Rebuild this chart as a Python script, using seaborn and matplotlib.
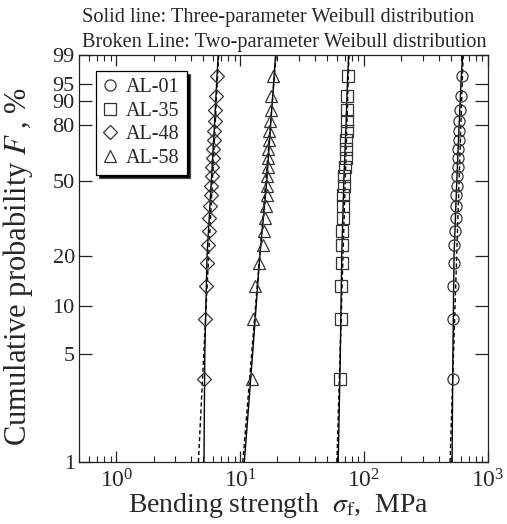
import numpy as np
import pandas as pd
import seaborn as sns
import matplotlib.pyplot as plt
from matplotlib.ticker import FixedLocator, NullLocator, NullFormatter

# Median ranks (i-0.3)/(n+0.4), n = 20, in percent
prob = [3.43, 8.33, 13.24, 18.14, 23.04, 27.94, 32.84, 37.75, 42.65, 47.55,
        52.45, 57.35, 62.25, 67.16, 72.06, 76.96, 81.86, 86.76, 91.67, 96.57]

# Bending strength of each specimen, MPa (sorted)
al01 = [519, 525, 526, 532, 535, 542, 547, 552, 557, 562,
        565, 570, 573, 576, 580, 584, 587, 595, 602, 614]
al35 = [64.0, 64.9, 65.2, 65.8, 66.5, 66.8, 67.3, 67.7, 68.1, 68.3,
        69.0, 69.6, 70.9, 71.6, 72.0, 72.3, 72.5, 72.9, 73.3, 73.9]
al48 = [5.13, 5.17, 5.27, 5.37, 5.47, 5.55, 5.62, 5.70, 5.76, 5.84,
        5.89, 5.95, 6.00, 6.06, 6.11, 6.17, 6.23, 6.29, 6.37, 6.46]
al58 = [12.43, 12.80, 13.29, 14.23, 15.41, 15.70, 16.00, 16.21, 16.42, 16.50,
        16.60, 16.73, 16.82, 16.92, 17.14, 17.23, 17.46, 17.69, 17.78, 18.56]

# Three-parameter fits (solid), read at these probabilities
fit3_prob = [1, 5, 20, 50, 80, 95, 99]
fit3_al01 = [513, 521, 532, 560, 585, 605, 624]
fit3_al35 = [61.8, 64.3, 66.0, 68.6, 71.5, 73.3, 75.0]
fit3_al48 = [5.10, 5.18, 5.40, 5.85, 6.20, 6.45, 6.65]
fit3_al58 = [10.8, 12.6, 14.4, 16.4, 17.6, 18.6, 19.3]

# Two-parameter fits (broken), straight lines
fit2_prob = [1, 99]
fit2_al01 = [494, 630]
fit2_al35 = [60.3, 75.5]
fit2_al48 = [4.6, 6.7]
fit2_al58 = [10.5, 19.5]

names = ["AL-01", "AL-35", "AL-48", "AL-58"]
markers = ["o", "s", "D", "^"]
yticks = [1, 5, 10, 20, 50, 80, 90, 95, 99]

sns.set_style("ticks")
plt.rcParams["font.family"] = ["Liberation Serif", "DejaVu Serif"]
plt.rcParams["mathtext.fontset"] = "stix"


def weib(f):
    f = np.clip(np.asarray(f, dtype=float), 1e-6, 100 - 1e-6)
    return np.log(-np.log(1 - f / 100))


def weib_inv(y):
    return 100 * (1 - np.exp(-np.exp(y)))


fig = plt.figure(figsize=(5.07, 5.24), dpi=100)
ax = fig.add_axes([0.1558, 0.1183, 0.8067, 0.7767])

points = [al01, al35, al48, al58]
fit3 = [fit3_al01, fit3_al35, fit3_al48, fit3_al58]
fit2 = [fit2_al01, fit2_al35, fit2_al48, fit2_al58]

for name, mk, xs, s3, s2 in zip(names, markers, points, fit3, fit2):
    sns.lineplot(x=s3, y=fit3_prob, sort=False, estimator=None, ax=ax,
                 color="black", lw=1.0)
    sns.lineplot(x=s2, y=fit2_prob, sort=False, estimator=None, ax=ax,
                 color="black", lw=1.0, linestyle=(0, (3, 2)))
    ms = 8 if mk != "D" else 7.5
    sns.lineplot(x=xs, y=prob, estimator=None, ax=ax, label=name,
                 marker=mk, linestyle="none", markersize=ms,
                 markerfacecolor="none", markeredgecolor="#333333",
                 markeredgewidth=0.9)

ax.set_xscale("log")
ax.set_yscale("function", functions=(weib, weib_inv))
ax.set_xlim(0.5, 1000)
ax.set_ylim(1, 99)
ax.yaxis.set_major_locator(FixedLocator(yticks))
ax.set_yticklabels([str(t) for t in yticks])
ax.yaxis.set_minor_locator(NullLocator())
ax.xaxis.set_minor_formatter(NullFormatter())

ax.tick_params(which="both", direction="in", top=True, right=True,
               color="#222222")
ax.tick_params(axis="y", which="major", length=9.5, width=0.9, pad=3,
               labelsize=16)
ax.tick_params(axis="x", which="major", length=8, width=0.9, pad=5,
               labelsize=17)
ax.tick_params(axis="x", which="minor", length=4, width=0.8)
for sp in ax.spines.values():
    sp.set_linewidth(0.9)
    sp.set_color("#222222")

ax.set_xlabel(r"Bending strength  $\sigma_\mathrm{f}$,  MPa", fontsize=20)
ax.set_ylabel(r"Cumulative probability $F$ , %", fontsize=22)
ax.xaxis.set_label_coords(0.487, -0.072)
ax.yaxis.set_label_coords(-0.108, 0.48)

leg = ax.legend(loc="upper left", bbox_to_anchor=(0.0416, 0.9607),
                borderaxespad=0, fontsize=14.5, frameon=True, fancybox=False,
                shadow={"facecolor": "black", "alpha": 1}, edgecolor="black",
                framealpha=1, handlelength=0.7, handletextpad=0.45,
                labelspacing=0.22, borderpad=0.35)
leg.get_frame().set_linewidth(0.9)

fig.text(82 / 507, 1 - 22 / 524, "Solid line: Three-parameter Weibull distribution",
         fontsize=14.7, va="baseline", ha="left")
fig.text(82 / 507, 1 - 47 / 524, "Broken Line: Two-parameter Weibull distribution",
         fontsize=14.7, va="baseline", ha="left")

fig.savefig("out.png", dpi=100)
